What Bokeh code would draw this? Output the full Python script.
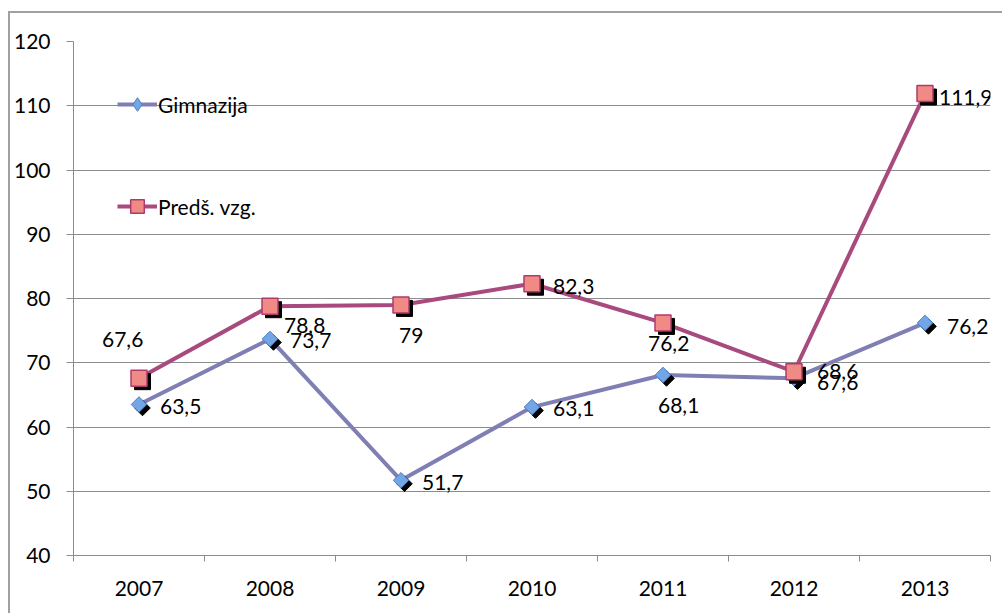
from bokeh.plotting import figure
from bokeh.models import (ColumnDataSource, Range1d, FixedTicker, LabelSet,
                          Legend, LegendItem)
from bokeh.core.properties import value
from bokeh.transform import dodge
from bokeh.embed import file_html
from bokeh.resources import INLINE

# ---- data ----
years = ["2007", "2008", "2009", "2010", "2011", "2012", "2013"]
gimnazija = [63.5, 73.7, 51.7, 63.1, 68.1, 67.6, 76.2]
predsolska = [67.6, 78.8, 79.0, 82.3, 76.2, 68.6, 111.9]
series_names = ["Gimnazija", "Predš. vzg."]
y_ticks = [40, 50, 60, 70, 80, 90, 100, 110, 120]

# ---- label placement (screen px: dx to text left edge, dy down) ----
gim_dx = [21, 20, 21, 21, -5, 23, 22]
gim_dy = [2, 1.5, 2, 1.5, 30.5, 4, 4]
pre_dx = [-37, 14, -2, 21, -15, 23, 14]
pre_dy = [-39, 19, 31, 3, 21, 0, 4]

FONT = "Lato"
GRID = "#8c8c8c"
GIM_LINE = "#7f7fb4"
PRE_LINE = "#a84a7e"

xs = list(range(len(years)))


def fmt(v):
    return f"{v:g}".replace(".", ",")


gsrc = ColumnDataSource(dict(x=xs, y=gimnazija, t=[fmt(v) for v in gimnazija],
                             xo=gim_dx, yo=[-d for d in gim_dy]))
psrc = ColumnDataSource(dict(x=xs, y=predsolska, t=[fmt(v) for v in predsolska],
                             xo=pre_dx, yo=[-d for d in pre_dy]))
# legend-only glyph source (nothing is drawn in the plot area)
legend_src = ColumnDataSource(dict(x=[float("nan")], y=[float("nan")]))

p = figure(width=994, height=602, output_backend="svg", toolbar_location=None,
           x_range=Range1d(-0.5, len(years) - 0.5), y_range=Range1d(40, 120),
           min_border_left=63, min_border_right=14, min_border_top=28,
           min_border_bottom=60, outline_line_color=None,
           background_fill_color="white", border_fill_color="white")
p.styles = {"border-left": "2px solid #a0a0a0", "border-top": "2px solid #a0a0a0",
            "margin-top": "11px", "margin-left": "8px"}

# axes
p.xaxis.ticker = FixedTicker(ticks=xs, minor_ticks=[i - 0.5 for i in range(len(years) + 1)])
p.xaxis.major_label_overrides = {i: y for i, y in enumerate(years)}
p.xaxis.major_tick_out = 0
p.xaxis.major_tick_in = 0
p.xaxis.minor_tick_out = 6
p.xaxis.minor_tick_in = 0
p.xaxis.minor_tick_line_color = GRID
p.xaxis.major_label_standoff = 19

p.yaxis.ticker = FixedTicker(ticks=y_ticks)
p.yaxis.major_tick_out = 7
p.yaxis.major_tick_in = 0
p.yaxis.minor_tick_line_color = None
p.yaxis.major_label_standoff = 16

for ax in (p.xaxis, p.yaxis):
    ax.axis_line_color = GRID
    ax.major_tick_line_color = GRID
    ax.major_label_text_font = FONT
    ax.major_label_text_font_size = "21px"
    ax.major_label_text_color = "black"

p.xgrid.grid_line_color = None
p.ygrid.grid_line_color = GRID
p.ygrid.ticker = FixedTicker(ticks=y_ticks)

sx = 3.5 / 131.0
sy = -3.5 * 80.0 / 514.0

GIM_FILL, GIM_EDGE = "#72a6e6", "#4d7fc4"
PRE_FILL, PRE_EDGE = "#f08a84", "#b03a6e"

# Gimnazija
gl = p.line("x", "y", source=gsrc, line_color=GIM_LINE, line_width=4)
p.scatter(dodge("x", sx), dodge("y", sy), source=gsrc, marker="square", size=11,
          angle=0.785398, fill_color="black", line_color="black")
p.scatter("x", "y", source=gsrc, marker="square", size=11, angle=0.785398,
          fill_color=GIM_FILL, line_color=GIM_EDGE, line_width=1)
g_leg = p.scatter("x", "y", source=legend_src, marker="diamond", size=12,
                  fill_color=GIM_FILL, line_color=GIM_EDGE, line_width=1)

# Predš. vzg.
pl = p.line("x", "y", source=psrc, line_color=PRE_LINE, line_width=4)
p.scatter(dodge("x", sx), dodge("y", sy), source=psrc, marker="square", size=16,
          fill_color="black", line_color="black")
pm = p.scatter("x", "y", source=psrc, marker="square", size=16,
               fill_color=PRE_FILL, line_color=PRE_EDGE, line_width=1.5)

for src in (gsrc, psrc):
    p.add_layout(LabelSet(x="x", y="y", text="t", source=src, x_offset="xo",
                          y_offset="yo", text_font=value(FONT),
                          text_font_size=value("21px"),
                          text_color="black", text_baseline="middle",
                          text_align="left"))

legend = Legend(items=[LegendItem(label=series_names[0], renderers=[gl, g_leg]),
                       LegendItem(label=series_names[1], renderers=[pl, pm])],
                location=(44, 332), glyph_width=40, glyph_height=34,
                label_height=32, spacing=68, padding=0, margin=0,
                label_standoff=1, border_line_color=None,
                background_fill_alpha=0, label_text_font=FONT,
                label_text_font_size="21px", label_text_color="black")
p.add_layout(legend)

html = file_html(p, INLINE)
html = html.replace("</head>", "<style>html, body { overflow: hidden; }</style></head>", 1)
open("out.html", "w").write(html)
